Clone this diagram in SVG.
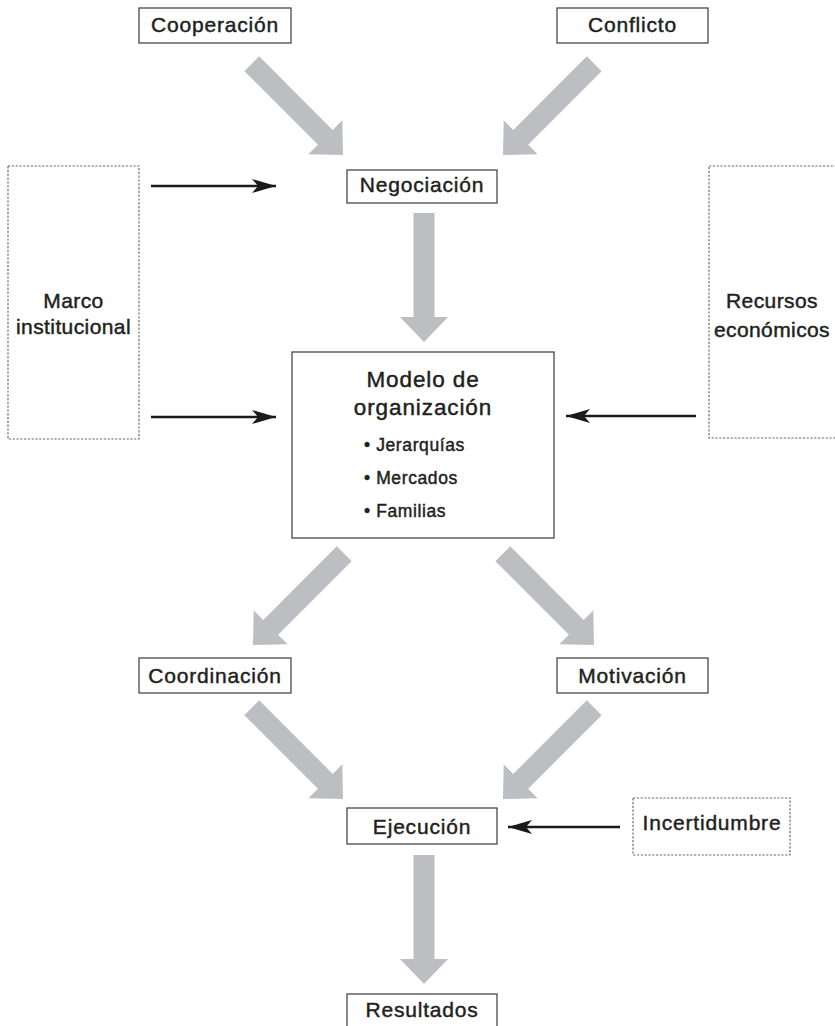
<svg xmlns="http://www.w3.org/2000/svg" xmlns:xlink="http://www.w3.org/1999/xlink" width="835" height="1026" viewBox="0 0 835 1026">
<style>
  .box { fill: #ffffff; stroke: #3a3a3a; stroke-width: 1.2; }
  .dbox { fill: none; stroke: #6a6a6a; stroke-width: 1.2; stroke-dasharray: 2.2 1.6; }
  text { font-family: "Liberation Sans", Arial, sans-serif; fill: #231f20; stroke: #231f20; stroke-width: 0.45px; }
  .lbl { font-size: 21px; text-anchor: middle; letter-spacing: 0.8px; }
  .side { font-size: 21px; text-anchor: middle; letter-spacing: 0.4px; }
  .title { font-size: 22.5px; text-anchor: middle; letter-spacing: 0.9px; }
  .item { font-size: 17.5px; letter-spacing: 0.6px; }
  .gray { fill: #bdbec1; }
  .blk { stroke: #1a1a1a; stroke-width: 2.3; fill: none; }
</style>
<defs>
  <path id="garrow" d="M -10.5,-129 L 10.5,-129 L 10.5,-25 L 24,-25 L 0,0 L -24,-25 L -10.5,-25 Z"/>
  <marker id="ah" markerUnits="userSpaceOnUse" markerWidth="28" markerHeight="18" viewBox="-26 -9 28 18" refX="0" refY="0" orient="auto">
    <path d="M 0,0 L -24,-7 L -18,0 L -24,7 Z" fill="#1a1a1a"/>
  </marker>
</defs>

<g id="connectors">
  <use xlink:href="#garrow" class="gray" transform="translate(343,155) rotate(-45)"/>
  <use xlink:href="#garrow" class="gray" transform="translate(503,155) rotate(45)"/>
  <use xlink:href="#garrow" class="gray" transform="translate(424,342)"/>
  <use xlink:href="#garrow" class="gray" transform="translate(253,645) rotate(45)"/>
  <use xlink:href="#garrow" class="gray" transform="translate(594,645) rotate(-45)"/>
  <use xlink:href="#garrow" class="gray" transform="translate(343,799) rotate(-45)"/>
  <use xlink:href="#garrow" class="gray" transform="translate(503,799) rotate(45)"/>
  <use xlink:href="#garrow" class="gray" transform="translate(424,984)"/>
  <line class="blk" x1="151" y1="186" x2="276" y2="186" marker-end="url(#ah)"/>
  <line class="blk" x1="151" y1="417" x2="276" y2="417" marker-end="url(#ah)"/>
  <line class="blk" x1="696" y1="416" x2="566" y2="416" marker-end="url(#ah)"/>
  <line class="blk" x1="620" y1="827" x2="508" y2="827" marker-end="url(#ah)"/>
</g>

<g id="cooperacion">
  <rect class="box" x="139" y="8" width="152" height="35"/>
  <text class="lbl" x="215" y="32">Cooperación</text>
</g>
<g id="conflicto">
  <rect class="box" x="557" y="8" width="151" height="35"/>
  <text class="lbl" x="632.5" y="32">Conflicto</text>
</g>
<g id="negociacion">
  <rect class="box" x="347" y="170" width="150" height="33"/>
  <text class="lbl" x="422" y="192">Negociación</text>
</g>
<g id="marco">
  <rect class="dbox" x="8" y="166" width="131" height="273"/>
  <text class="side" x="73.5" y="308">Marco</text>
  <text class="side" x="73.5" y="334">institucional</text>
</g>
<g id="recursos">
  <rect class="dbox" x="709" y="166" width="140" height="272"/>
  <text class="side" x="772" y="308">Recursos</text>
  <text class="side" x="772" y="337">económicos</text>
</g>
<g id="modelo">
  <rect class="box" x="292" y="352" width="262" height="186"/>
  <text class="title" x="423" y="387">Modelo de</text>
  <text class="title" x="423" y="415">organización</text>
  <text class="item" x="364" y="451">• Jerarquías</text>
  <text class="item" x="364" y="484">• Mercados</text>
  <text class="item" x="364" y="517">• Familias</text>
</g>
<g id="coordinacion">
  <rect class="box" x="139" y="658" width="152" height="35"/>
  <text class="lbl" x="215" y="683">Coordinación</text>
</g>
<g id="motivacion">
  <rect class="box" x="557" y="658" width="151" height="35"/>
  <text class="lbl" x="632.5" y="683">Motivación</text>
</g>
<g id="ejecucion">
  <rect class="box" x="347" y="808" width="150" height="36"/>
  <text class="lbl" x="422" y="834">Ejecución</text>
</g>
<g id="incertidumbre">
  <rect class="dbox" x="633" y="798" width="157" height="57"/>
  <text class="lbl" x="712" y="830">Incertidumbre</text>
</g>
<g id="resultados">
  <rect class="box" x="347" y="994" width="150" height="40"/>
  <text class="lbl" x="422" y="1017">Resultados</text>
</g>
</svg>
